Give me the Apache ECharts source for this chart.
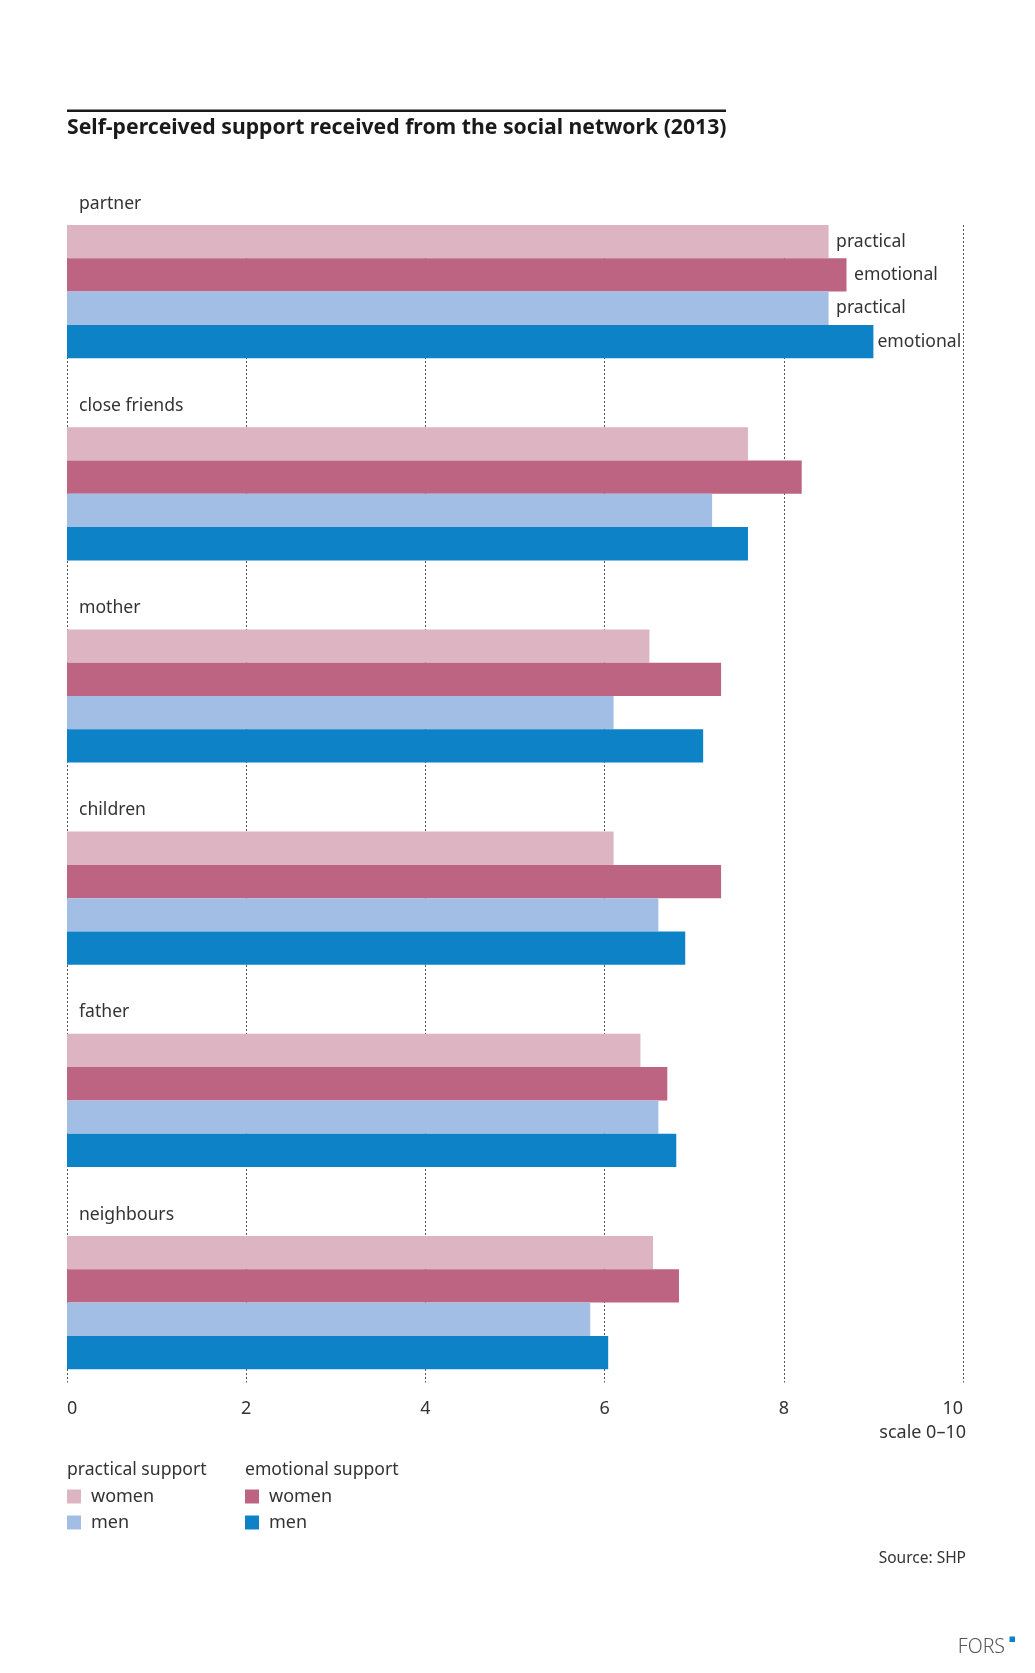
<!DOCTYPE html>
<html>
<head>
<meta charset="utf-8">
<script src="https://cdn.jsdelivr.net/npm/echarts@6/dist/echarts.min.js"></script>
<style>
html,body{margin:0;padding:0;background:#fff;}
#chart{width:1035px;height:1673px;}
</style>
</head>
<body>
<div id="chart"></div>
<script>
const categories = ['partner', 'close friends', 'mother', 'children', 'father', 'neighbours'];
const practicalWomen = [8.5, 7.6, 6.5, 6.1, 6.4, 6.54];
const emotionalWomen = [8.7, 8.2, 7.3, 7.3, 6.7, 6.83];
const practicalMen   = [8.5, 7.2, 6.1, 6.6, 6.6, 5.84];
const emotionalMen   = [9.0, 7.6, 7.1, 6.9, 6.8, 6.04];
const seriesNames = ['practical women', 'emotional women', 'practical men', 'emotional men'];
const barLabels = ['practical', 'emotional', 'practical', 'emotional'];
const xMin = 0, xMax = 10, xStep = 2;

const colors = ['#DCB4C2', '#BD6482', '#A3BEE4', '#0D82C7'];
const labelDist = [7.5, 7.5, 7.5, 4];
const FONT = 'Noto Sans';
const TXT = '#333333';

const chart = echarts.init(document.getElementById('chart'), null, {renderer: 'canvas'});

const seriesData = [practicalWomen, emotionalWomen, practicalMen, emotionalMen];

const series = seriesData.map((d, i) => ({
  name: seriesNames[i],
  type: 'bar',
  xAxisIndex: 0,
  yAxisIndex: 0,
  data: d,
  barGap: '0%',
  barCategoryGap: '34.1%',
  itemStyle: {color: colors[i]},
  silent: true,
  label: {
    show: true,
    position: 'right',
    distance: labelDist[i],
    fontFamily: FONT,
    fontSize: 17.6,
    color: TXT,
    formatter: p => p.dataIndex === 0 ? barLabels[i] : ''
  }
}));

const legendBase = {
  orient: 'vertical', top: 1487.5, padding: 0,
  itemWidth: 14, itemHeight: 14, itemGap: 8, icon: 'rect',
  selectedMode: false,
  formatter: n => n.split(' ')[1],
  textStyle: {fontFamily: FONT, fontSize: 18, color: TXT, padding: [0, 0, 0, 5]}
};

const option = {
  animation: false,
  backgroundColor: '#ffffff',
  textStyle: {fontFamily: FONT},
  grid: [
    {left: 67, right: 72, top: 190.5, height: 1213.2},
    {left: 67, right: 72, top: 225, height: 1157.6},
    {left: 67, right: 72, top: 102.5, height: 1213.2}
  ],
  xAxis: [
    {gridIndex: 0, type: 'value', min: xMin, max: xMax, interval: xStep, show: false},
    {
      gridIndex: 1, type: 'value', min: xMin, max: xMax, interval: xStep,
      axisLine: {show: false}, axisTick: {show: false},
      splitLine: {show: true, lineStyle: {color: '#555555', width: 1, type: [2, 2]}},
      axisLabel: {
        fontFamily: FONT, fontSize: 18, color: TXT, margin: 17,
        alignMinLabel: 'left', alignMaxLabel: 'right'
      }
    },
    {gridIndex: 2, type: 'value', min: xMin, max: xMax, show: false}
  ],
  yAxis: [
    {
      gridIndex: 0, type: 'category', data: categories, inverse: true,
      axisLine: {show: false}, axisTick: {show: false}, splitLine: {show: false},
      axisLabel: {show: false}
    },
    {gridIndex: 1, type: 'value', min: 0, max: 1, show: false},
    {
      gridIndex: 2, type: 'category', data: categories, inverse: true,
      axisLine: {show: false}, axisTick: {show: false}, splitLine: {show: false},
      axisLabel: {
        inside: true, margin: 12, align: 'left', verticalAlign: 'middle',
        fontFamily: FONT, fontSize: 17.6, color: TXT
      }
    }
  ],
  legend: [
    Object.assign({}, legendBase, {data: [seriesNames[0], seriesNames[2]], left: 67}),
    Object.assign({}, legendBase, {data: [seriesNames[1], seriesNames[3]], left: 245})
  ],
  graphic: [
    {type: 'rect', shape: {x: 67, y: 109.5, width: 659, height: 2.6}, style: {fill: '#1a1a1a'}},
    {type: 'text', x: 67, y: 127.5, style: {text: 'Self-perceived support received from the social network (2013)', font: 'bold 21.2px "Noto Sans"', fill: '#1a1a1a', textVerticalAlign: 'middle', textAlign: 'left'}},
    {type: 'text', x: 966, y: 1433, style: {text: 'scale 0\u201310', font: '18px "Noto Sans"', fill: TXT, textAlign: 'right', textVerticalAlign: 'middle'}},
    {type: 'text', x: 67, y: 1470, style: {text: 'practical support', font: '17.6px "Noto Sans"', fill: TXT, textAlign: 'left', textVerticalAlign: 'middle'}},
    {type: 'text', x: 245, y: 1470, style: {text: 'emotional support', font: '17.6px "Noto Sans"', fill: TXT, textAlign: 'left', textVerticalAlign: 'middle'}},
    {type: 'text', x: 966, y: 1559, style: {text: 'Source: SHP', font: '15.5px "Noto Sans"', fill: TXT, textAlign: 'right', textVerticalAlign: 'middle'}},
    {type: 'text', x: 1005, y: 1647, style: {text: 'FORS', font: '300 19.5px "Noto Sans"', fill: '#555555', textAlign: 'right', textVerticalAlign: 'middle'}},
    {type: 'rect', shape: {x: 1009.5, y: 1636.5, width: 5.5, height: 5.5}, style: {fill: '#0D82C7'}}
  ],
  series: series
};

chart.setOption(option);
</script>
</body>
</html>
